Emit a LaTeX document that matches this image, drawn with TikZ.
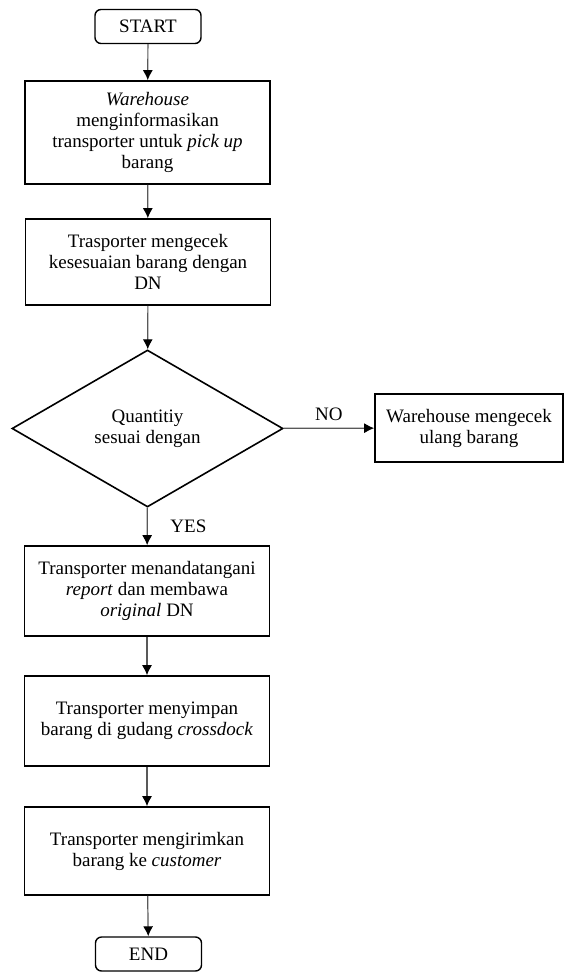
\documentclass[tikz,border=0pt]{standalone}
\usepackage{fontspec}
\setmainfont{Liberation Serif}
\usetikzlibrary{shapes.geometric,arrows.meta}
\tikzset{
  terminal/.style={draw,rounded corners=3pt,line width=0.7pt,minimum width=53pt,minimum height=17pt,inner sep=0pt},
  task/.style={draw,line width=0.8pt,align=center,minimum width=122.5pt,inner sep=0pt},
  decision/.style={draw,diamond,line width=0.8pt,align=center,minimum width=135.5pt,minimum height=78.5pt,inner sep=0pt},
  flow/.style={black!65,line width=0.6pt,-{Latex[length=5pt,width=5pt,color=black]}}
}
\begin{document}
\begin{tikzpicture}[x=0.5pt,y=-0.5pt,font=\fontsize{9.5}{10.5}\selectfont]
\useasboundingbox (0,0) rectangle (564,972);
\node[terminal] (start) at (148,26.5) {START};
\node[task,minimum height=51.5pt] (inform) at (147.5,132.5) {\textit{Warehouse}\\menginformasikan\\transporter untuk \textit{pick up}\\barang};
\node[task,minimum height=43pt] (check) at (148,262) {Trasporter mengecek\\kesesuaian barang dengan\\DN};
\node[decision] (qty) at (147.5,428.5) {Quantitiy\\sesuai dengan};
\node[task,minimum width=94pt,minimum height=34pt] (recheck) at (469,428) {Warehouse mengecek\\ulang barang};
\node[task,minimum height=45pt] (sign) at (147,591) {Transporter menandatangani\\\textit{report} dan membawa\\\textit{original} DN};
\node[task,minimum height=45pt] (store) at (147,721) {Transporter menyimpan\\barang di gudang \textit{crossdock}};
\node[task,minimum height=44pt] (send) at (147,851) {Transporter mengirimkan\\barang ke \textit{customer}};
\node[terminal] (end) at (148.5,954) {END};
\draw[flow] (start) -- (inform);
\draw[flow] (inform) -- (check);
\draw[flow] (check) -- (qty);
\draw[flow] (qty) -- node[above,black] {NO} (recheck);
\draw[flow] (qty) -- node[right=8pt,black] {YES} (sign);
\draw[flow] (sign) -- (store);
\draw[flow] (store) -- (send);
\draw[flow] (send) -- (end);
\end{tikzpicture}
\end{document}
